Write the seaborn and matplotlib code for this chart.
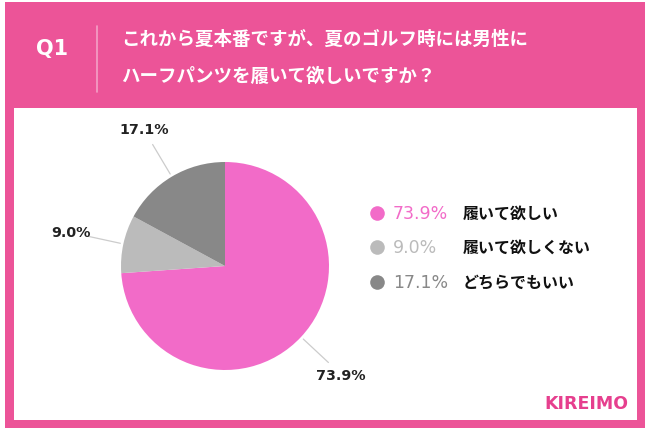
import numpy as np
import matplotlib
matplotlib.use("Agg")
import matplotlib.pyplot as plt
import seaborn as sns
from matplotlib.patches import Rectangle
from matplotlib.lines import Line2D

# ---- data ----
categories = ["履いて欲しい", "履いて欲しくない", "どちらでもいい"]
values = [73.9, 9.0, 17.1]
pct_labels = ["73.9%", "9.0%", "17.1%"]
colors = ["#F26BC8", "#BBBBBB", "#888888"]
title_lines = ["これから夏本番ですが、夏のゴルフ時には男性に", "ハーフパンツを履いて欲しいですか？"]
question = "Q1"
brand = "KIREIMO"

sns.set_theme(style="white")
plt.rcParams['font.family'] = ['Noto Sans CJK JP', 'DejaVu Sans']

W, H = 650, 435
fig = plt.figure(figsize=(W / 100, H / 100), dpi=100)
fig.patch.set_facecolor("white")

def fx(x):
    return x / W

def fy(y):
    return 1 - y / H

FRAME = "#EC5498"
# outer pink frame
fig.patches.append(Rectangle((fx(5), fy(429)), fx(640), 426 / H, transform=fig.transFigure,
                             facecolor=FRAME, edgecolor="none", zorder=-2))
# inner white panel
fig.patches.append(Rectangle((fx(14), fy(421)), fx(623), 312 / H, transform=fig.transFigure,
                             facecolor="white", edgecolor="none", zorder=-1))

# header
fig.text(fx(52), fy(49), question, color="white", fontsize=15, fontweight="semibold",
         ha="center", va="center", family=["DejaVu Sans"])
fig.add_artist(Line2D([fx(97), fx(97)], [fy(27), fy(93)], transform=fig.transFigure,
                      color="#F4A0C6", lw=1.2))
fig.text(fx(121), fy(39), title_lines[0], color="white", fontsize=13.3, fontweight="bold",
         ha="left", va="center")
fig.text(fx(121), fy(76), title_lines[1], color="white", fontsize=13.3, fontweight="bold",
         ha="left", va="center")

# pie
cx, cy, r = 225, 267, 104
ax = fig.add_axes([fx(cx - r), fy(cy + r), 2 * r / W, 2 * r / H])
wedges, _ = ax.pie(values, colors=colors, startangle=90, counterclock=False,
                   radius=1.0, wedgeprops=dict(linewidth=0))
ax.set_xlim(-1, 1)
ax.set_ylim(-1, 1)
ax.set_aspect("equal")
ax.axis("off")

for w, lab in zip(wedges, pct_labels):
    ang = np.deg2rad((w.theta1 + w.theta2) / 2)
    c, s = np.cos(ang), np.sin(ang)
    ax.plot([1.03 * c, 1.36 * c], [1.03 * s, 1.36 * s], color="#CCCCCC", lw=0.9,
            clip_on=False)
    ax.text(1.52 * c, 1.53 * s, lab, ha="center", va="center", fontsize=10.3,
            fontweight="bold", color="#222222", family=["DejaVu Sans"], clip_on=False)

# legend
leg_y = [214, 248, 283]
for yy, cat, pl, col in zip(leg_y, categories, pct_labels, colors):
    fig.add_artist(Line2D([fx(377)], [fy(yy)], marker="o", markersize=10.5,
                          markerfacecolor=col, markeredgecolor="none",
                          transform=fig.transFigure))
    fig.text(fx(393), fy(yy), pl, color=col, fontsize=12.5, ha="left", va="center",
             family=["DejaVu Sans"])
    fig.text(fx(463), fy(yy), cat, color="#111111", fontsize=11.5, fontweight="bold",
             ha="left", va="center")

# brand
fig.text(fx(628), fy(404), brand, color="#E63F8E", fontsize=12.5, fontweight="bold",
         ha="right", va="center", family=["DejaVu Sans"])

fig.savefig("out.png", dpi=100, facecolor="white")
